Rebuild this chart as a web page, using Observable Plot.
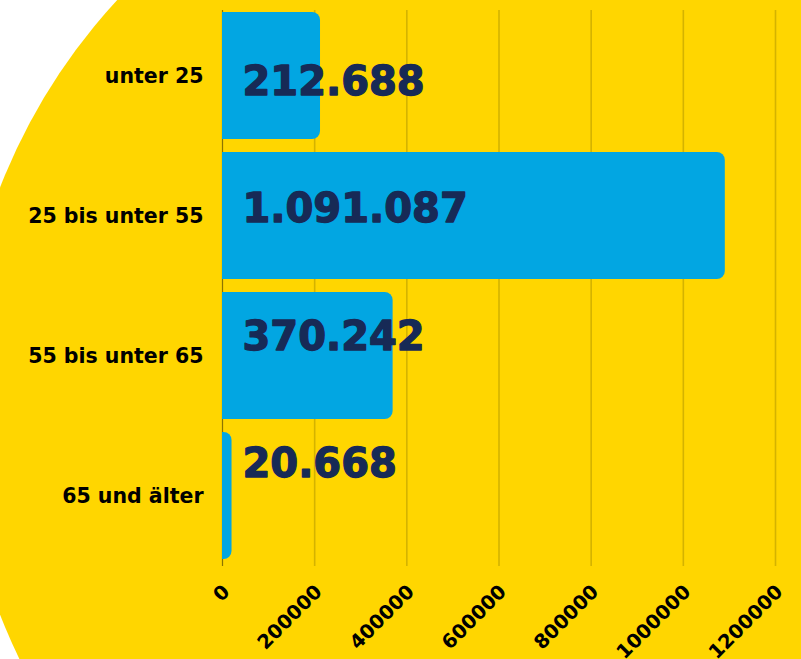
<!DOCTYPE html>
<html><head><meta charset="utf-8">
<script src="https://cdn.jsdelivr.net/npm/d3@7"></script>
<script src="https://cdn.jsdelivr.net/npm/@observablehq/plot@0.6"></script>
<style>
html,body{margin:0;padding:0;background:#fff;width:801px;height:659px;overflow:hidden}
#wrap{position:relative;width:801px;height:659px;overflow:hidden}
#disc{position:absolute;left:-40px;top:-189px;width:1180px;height:1180px;border-radius:50%;background:#ffd600}
#chart{position:absolute;left:0;top:0}
</style></head><body>
<div id="wrap"><div id="disc"></div><div id="chart"></div></div>
<script>
const categories = ["unter 25", "25 bis unter 55", "55 bis unter 65", "65 und älter"];
const values = [212688, 1091087, 370242, 20668];
const xTicks = [0, 200000, 400000, 600000, 800000, 1000000, 1200000];

const de = d3.formatLocale({decimal: ",", thousands: ".", grouping: [3], currency: ["", " €"]});
const fmt = de.format(",d");
const data = categories.map((c, i) => ({category: c, value: values[i], label: fmt(values[i])}));

const plot = Plot.plot({
  width: 801, height: 659,
  marginLeft: 222, marginRight: 26, marginTop: 10, marginBottom: 93,
  style: {background: "transparent", fontFamily: "'DejaVu Sans', sans-serif", fontWeight: "bold", overflow: "visible", color: "#000"},
  x: {domain: [0, 1200000], label: null},
  y: {domain: categories, range: [10, 561], paddingInner: 0.09, paddingOuter: 0, label: null},
  marks: [
    Plot.gridX(xTicks, {stroke: "#d4b300", strokeOpacity: 1, strokeWidth: 1.6}),
    Plot.ruleX([0], {stroke: "#8c7400", strokeWidth: 1}),
    Plot.barX(data, {y: "category", x: "value", fill: "#02a6e2", rx2: 8}),
    ...data.map((d, i) => Plot.text([d], {
      x: 0, y: "category", text: "label", dx: 20, dy: 6 - 12.5 * i,
      textAnchor: "start", fill: "#172a56", stroke: "#172a56", strokeWidth: 1.3,
      fontSize: 40, fontWeight: "bold"
    })),
    Plot.axisX(xTicks, {tickFormat: d => String(d), tickRotate: -45, tickSize: 0, tickPadding: 22, dx: 4,
      fontSize: 19.5, fontWeight: "bold", fill: "#000", stroke: "#000", strokeWidth: 1, label: null}),
    Plot.axisY({tickSize: 0, tickPadding: 19, fontSize: 20.5, fontWeight: "bold", fill: "#000", stroke: "#000", strokeWidth: 0.6, label: null})
  ]
});
document.getElementById("chart").appendChild(plot);
</script>
</body></html>
